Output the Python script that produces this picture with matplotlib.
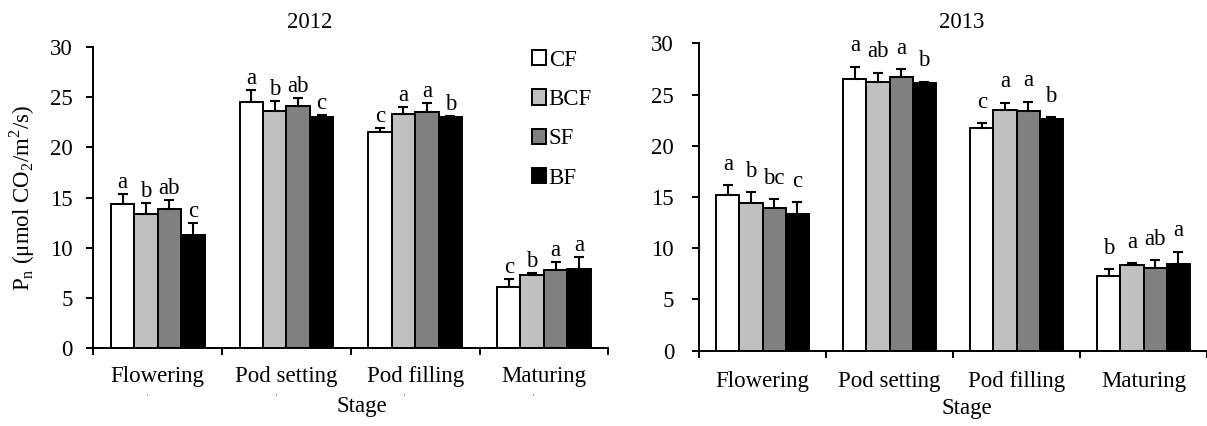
import matplotlib
matplotlib.use("Agg")
import matplotlib.pyplot as plt
import numpy as np

plt.rcParams['font.family'] = ['Liberation Serif', 'DejaVu Serif']
plt.rcParams['mathtext.fontset'] = 'custom'
plt.rcParams['mathtext.rm'] = 'Liberation Serif'

stages = ["Flowering", "Pod setting", "Pod filling", "Maturing"]
treatments = ["CF", "BCF", "SF", "BF"]
colors = ["#FFFFFF", "#C0C0C0", "#808080", "#000000"]

# 2012 means and upper error (SE)
means_2012 = {
    "CF":  [14.35, 24.53, 21.55, 6.13],
    "BCF": [13.36, 23.63, 23.30, 7.29],
    "SF":  [13.86, 24.10, 23.47, 7.79],
    "BF":  [11.27, 22.97, 22.97, 7.92],
}
err_2012 = {
    "CF":  [0.95, 1.16, 0.39, 0.73],
    "BCF": [1.06, 0.97, 0.67, 0.17],
    "SF":  [0.86, 0.83, 0.89, 0.80],
    "BF":  [1.23, 0.23, 0.10, 1.13],
}
letters_2012 = {
    "CF":  ["a", "a", "c", "c"],
    "BCF": ["b", "b", "a", "b"],
    "SF":  ["ab", "ab", "a", "a"],
    "BF":  ["c", "c", "b", "a"],
}

# 2013
means_2013 = {
    "CF":  [15.23, 26.49, 21.77, 7.29],
    "BCF": [14.45, 26.26, 23.52, 8.36],
    "SF":  [13.89, 26.71, 23.43, 8.10],
    "BF":  [13.34, 26.10, 22.65, 8.49],
}
err_2013 = {
    "CF":  [0.91, 1.23, 0.42, 0.68],
    "BCF": [1.01, 0.88, 0.68, 0.20],
    "SF":  [0.88, 0.78, 0.87, 0.75],
    "BF":  [1.14, 0.16, 0.13, 1.17],
}
letters_2013 = {
    "CF":  ["a", "a", "c", "b"],
    "BCF": ["b", "ab", "a", "a"],
    "SF":  ["bc", "a", "a", "ab"],
    "BF":  ["c", "b", "b", "a"],
}

yticks = [0, 5, 10, 15, 20, 25, 30]

FS = 16.5
W, H = 1207, 426
fig = plt.figure(figsize=(W / 100, H / 100), dpi=100)

def draw(ax, means, errs, letters, letter_off, ypad, xpad, xlab_xy):
    x = np.arange(len(stages))
    bw = 0.182
    for i, t in enumerate(treatments):
        pos = x + (i - 1.5) * bw
        ax.bar(pos, means[t], width=bw, color=colors[i], edgecolor="black",
               linewidth=1.4, zorder=2)
        ax.errorbar(pos, means[t], yerr=[np.zeros(len(stages)), errs[t]],
                    fmt="none", ecolor="black", elinewidth=1.5, capsize=3.5,
                    capthick=1.5, zorder=3)
        for j in range(len(stages)):
            ax.text(pos[j], means[t][j] + errs[t][j] + letter_off, letters[t][j],
                    ha="center", va="baseline", fontsize=FS)
    ax.set_xlim(-0.5, len(stages) - 0.5)
    ax.set_ylim(0, 30)
    ax.set_yticks(yticks)
    ax.set_yticklabels([str(v) for v in yticks], fontsize=FS)
    ax.set_xticks(np.arange(len(stages) + 1) - 0.5)
    ax.set_xticklabels([])
    ax.set_xticks(x, minor=True)
    ax.set_xticklabels(stages, minor=True, fontsize=FS)
    ax.tick_params(axis="x", which="minor", length=0, pad=xpad)
    ax.tick_params(axis="x", which="major", direction="out", length=5, width=1.4)
    ax.tick_params(axis="y", direction="out", length=5, width=1.4, pad=ypad)
    for s in ["top", "right"]:
        ax.spines[s].set_visible(False)
    for s in ["left", "bottom"]:
        ax.spines[s].set_linewidth(1.4)
    ax.set_xlabel("Stage", fontsize=FS)
    ax.xaxis.set_label_coords(*xlab_xy)

ax1 = fig.add_axes([93.3 / W, 1 - 348.3 / H, 515 / W, 301.6 / H])
draw(ax1, means_2012, err_2012, letters_2012, 0.6, 10, 13, (0.521, -0.158))
ax1.set_ylabel(r"P$_\mathregular{n}$ ($\mathregular{\mu}$mol CO$_\mathregular{2}$/m$^\mathregular{2}$/s)",
               fontsize=FS)
ax1.yaxis.set_label_coords(-0.11, 0.5)

handles = [plt.Rectangle((0, 0), 1, 1, facecolor=c, edgecolor="black", linewidth=1.4)
           for c in colors]
ax1.legend(handles, treatments, loc="upper left", bbox_to_anchor=(0.851, 0.99),
           frameon=False, fontsize=FS, handlelength=0.65, handleheight=0.65,
           handletextpad=0.1, labelspacing=0.8, borderpad=0, borderaxespad=0)

# small stray marks under category labels (as in the reference)
for j in range(len(stages)):
    ax1.text(j - 0.08, -0.165, "'", transform=ax1.get_xaxis_transform(),
             ha="center", va="center", fontsize=6, color="#444444")

ax2 = fig.add_axes([699 / W, 1 - 350.7 / H, 508 / W, 307.4 / H])
draw(ax2, means_2013, err_2013, letters_2013, 1.5, 13, 14.5, (0.5276, -0.153))

fig.text(310 / W, 1 - 28.3 / H, "2012", ha="center", va="baseline", fontsize=FS)
fig.text(961.7 / W, 1 - 28 / H, "2013", ha="center", va="baseline", fontsize=FS)

fig.savefig("out.png", dpi=100)
